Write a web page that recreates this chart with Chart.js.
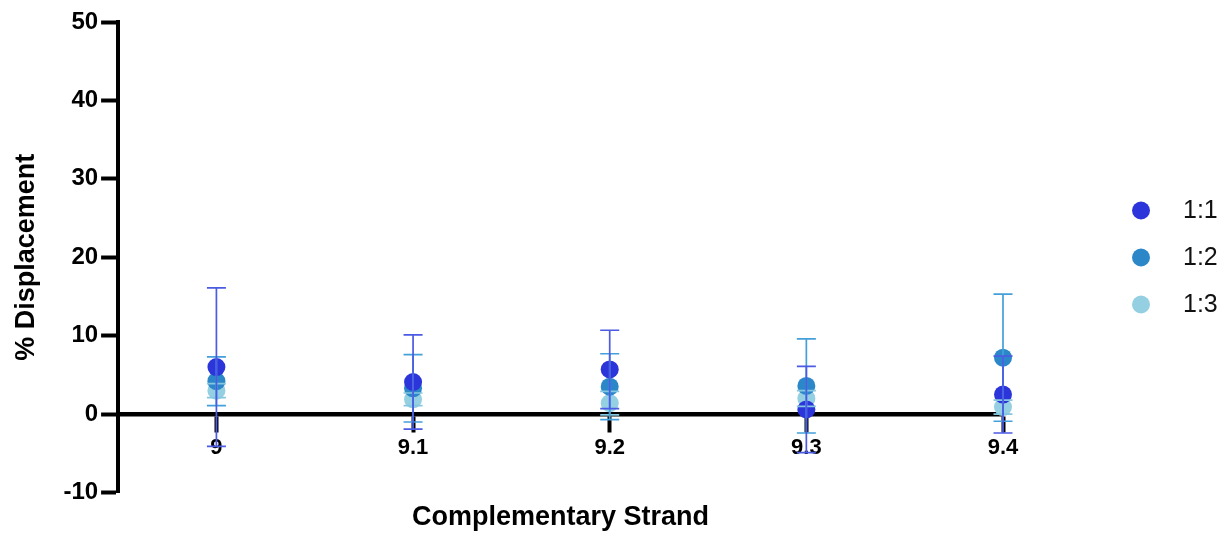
<!DOCTYPE html>
<html>
<head>
<meta charset="utf-8">
<title>% Displacement by complementary strand</title>
<script src="https://cdn.jsdelivr.net/npm/chart.js@4/dist/chart.umd.min.js"></script>
<style>
  html, body { margin: 0; padding: 0; background: #ffffff; }
  #wrap { width: 1222px; height: 534px; }
</style>
</head>
<body>
<div id="wrap"><canvas id="c" width="1222" height="534"></canvas></div>
<script>
// Complementary strand positions on the x axis
const strands = [9, 9.1, 9.2, 9.3, 9.4];
const ratioLabels = ['1:1', '1:2', '1:3'];

// Mean % displacement and SD for each ratio
const mean11 = [6.0, 4.1, 5.7, 0.6, 2.5];
const sd11   = [10.1, 6.0, 5.0, 5.5, 4.9];
const mean12 = [4.2, 3.3, 3.5, 3.6, 7.2];
const sd12   = [3.1, 4.3, 4.2, 6.0, 8.1];
const mean13 = [3.0, 1.9, 1.4, 2.0, 0.9];
const sd13   = [0.9, 0.8, 1.5, 1.0, 0.9];

const yTicks = [-10, 0, 10, 20, 30, 40, 50];

const FONT = "'Liberation Sans', Arial, Helvetica, sans-serif";

// Vertical SD bars with caps, drawn over the points
const errorBars = {
  id: 'errorBars',
  afterDatasetsDraw(chart) {
    const ctx = chart.ctx;
    const yScale = chart.scales.y;
    for (let d = chart.data.datasets.length - 1; d >= 0; d--) {
      const ds = chart.data.datasets[d];
      const meta = chart.getDatasetMeta(d);
      ctx.save();
      ctx.strokeStyle = ds.errorColor;
      ctx.lineWidth = 1.7;
      meta.data.forEach((pt, i) => {
        const v = ds.data[i].y;
        const e = ds.errors[i];
        const yTop = yScale.getPixelForValue(v + e);
        const yBot = yScale.getPixelForValue(v - e);
        const half = 9.5;
        ctx.beginPath();
        ctx.moveTo(pt.x, yTop); ctx.lineTo(pt.x, yBot);
        ctx.moveTo(pt.x - half, yTop); ctx.lineTo(pt.x + half, yTop);
        ctx.moveTo(pt.x - half, yBot); ctx.lineTo(pt.x + half, yBot);
        ctx.stroke();
      });
      ctx.restore();
    }
  }
};

// Key on the right: one dot and label per ratio
const sideKey = {
  id: 'sideKey',
  afterDraw(chart, args, opts) {
    const ctx = chart.ctx;
    ctx.save();
    chart.data.datasets.forEach((ds, i) => {
      const cy = opts.top + i * opts.gap;
      ctx.beginPath();
      ctx.arc(opts.x, cy, opts.r, 0, Math.PI * 2);
      ctx.fillStyle = ds.backgroundColor;
      ctx.fill();
      ctx.fillStyle = '#111111';
      ctx.font = opts.font;
      ctx.textBaseline = 'middle';
      ctx.textAlign = 'left';
      ctx.fillText(ds.label, opts.textX, cy + 1);
    });
    ctx.restore();
  }
};

function series(label, means, sds, fill, barColor) {
  return {
    label: label,
    data: strands.map((s, i) => ({ x: s, y: means[i] })),
    errors: sds,
    errorColor: barColor,
    backgroundColor: fill,
    borderColor: fill,
    borderWidth: 0,
    pointRadius: 9,
    pointHoverRadius: 9,
    clip: false
  };
}

new Chart(document.getElementById('c'), {
  type: 'scatter',
  data: {
    datasets: [
      series(ratioLabels[0], mean11, sd11, '#2b35d9', '#4b5be4'),
      series(ratioLabels[1], mean12, sd12, '#2b87c7', '#449fdb'),
      series(ratioLabels[2], mean13, sd13, '#95cfe2', '#86c6df')
    ]
  },
  options: {
    responsive: false,
    animation: false,
    devicePixelRatio: 1,
    events: [],
    layout: { padding: { top: 22, right: 219, bottom: 0, left: 0 } },
    plugins: {
      legend: { display: false },
      tooltip: { enabled: false },
      sideKey: { x: 1141, textX: 1183, top: 210.5, gap: 47, r: 9, font: '25px ' + FONT }
    },
    scales: {
      x: {
        type: 'linear',
        position: { y: 0 },
        min: 8.95,
        max: 9.4,
        afterBuildTicks: (s) => { s.ticks = strands.map(v => ({ value: v })); },
        ticks: {
          callback: (v) => String(v),
          color: '#000000',
          font: { family: FONT, size: 22, weight: 'bold' },
          padding: 5,
          autoSkip: false,
          maxRotation: 0
        },
        grid: {
          display: true,
          drawOnChartArea: false,
          drawTicks: true,
          tickLength: 16,
          tickWidth: 4,
          tickColor: '#000000',
          color: '#000000'
        },
        border: { display: true, color: '#000000', width: 4.5 }
      },
      x2: {
        type: 'linear',
        position: 'bottom',
        display: true,
        grid: { display: false },
        ticks: { display: false },
        border: { display: false },
        title: {
          display: true,
          text: 'Complementary Strand',
          color: '#000000',
          font: { family: FONT, size: 27, weight: 'bold' },
          padding: { top: 1, bottom: 0 }
        }
      },
      y: {
        type: 'linear',
        min: -10,
        max: 50,
        afterBuildTicks: (s) => { s.ticks = yTicks.map(v => ({ value: v })); },
        ticks: {
          color: '#000000',
          font: { family: FONT, size: 24, weight: 'bold' },
          padding: 3
        },
        grid: {
          display: true,
          drawOnChartArea: false,
          drawTicks: true,
          tickLength: 17,
          tickWidth: 4,
          tickColor: '#000000',
          color: '#000000'
        },
        border: { display: true, color: '#000000', width: 4 },
        title: {
          display: true,
          text: '% Displacement',
          color: '#000000',
          font: { family: FONT, size: 27, weight: 'bold' },
          padding: { top: 10, bottom: 18 }
        }
      }
    }
  },
  plugins: [errorBars, sideKey]
});
</script>
</body>
</html>
